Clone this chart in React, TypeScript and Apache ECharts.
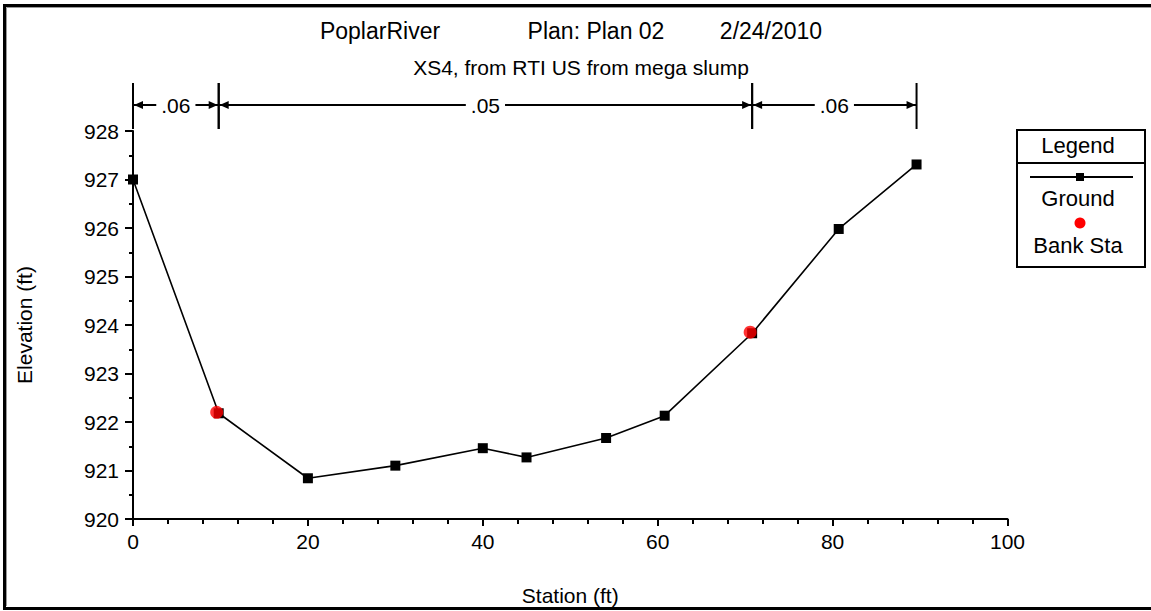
import React, { useEffect, useRef } from "react";
import * as echarts from "echarts";

// Cross-section XS4 ground profile
const groundStation = [0, 9.8, 20, 30, 40, 45, 54.1, 60.8, 70.8, 80.7, 89.6];
const groundElev = [927.0, 922.18, 920.84, 921.1, 921.46, 921.27, 921.67, 922.13, 923.83, 925.98, 927.31];

// Left / right bank stations
const bankStation = [9.8, 70.8];
const bankElev = [922.18, 923.83];

// Manning's n reaches across the section
const nStart = [0, 9.8, 70.8];
const nEnd = [9.8, 70.8, 89.6];
const nValue = [0.06, 0.05, 0.06];

const xTicks = { min: 0, max: 100, interval: 20 };
const yTicks = { min: 920, max: 928, interval: 1 };

const FONT = "Liberation Sans, Arial, sans-serif";

export default function App() {
  const ref = useRef<HTMLDivElement>(null);

  useEffect(() => {
    document.body.style.margin = "0";
    if (!ref.current) return;
    const chart = echarts.init(ref.current, undefined, { renderer: "svg" });

    const ground = groundStation.map((s, i) => [s, groundElev[i]]);
    const bank = bankStation.map((s, i) => [s, bankElev[i]]);
    const nData = nStart.map((s, i) => [s, nEnd[i], nValue[i]]);

    chart.setOption({
      animation: false,
      backgroundColor: "#fff",
      textStyle: { fontFamily: FONT, color: "#000" },
      grid: { left: 133, right: 143.5, top: 131, bottom: 91, containLabel: false },
      xAxis: {
        type: "value",
        min: xTicks.min,
        max: xTicks.max,
        interval: xTicks.interval,
        name: "Station (ft)",
        nameLocation: "middle",
        nameGap: 66,
        nameTextStyle: { fontSize: 21, color: "#000", fontFamily: FONT },
        axisLine: { show: true, onZero: false, lineStyle: { color: "#000", width: 2 } },
        axisTick: { show: true, length: 7, lineStyle: { color: "#000", width: 2 } },
        minorTick: { show: true, splitNumber: 5, length: 5, lineStyle: { color: "#000", width: 2 } },
        axisLabel: { fontSize: 21, color: "#000", margin: 12, fontFamily: FONT },
        splitLine: { show: false },
      },
      yAxis: {
        type: "value",
        min: yTicks.min,
        max: yTicks.max,
        interval: yTicks.interval,
        name: "Elevation (ft)",
        nameLocation: "middle",
        nameGap: 98,
        nameRotate: 90,
        nameTextStyle: { fontSize: 21, color: "#000", fontFamily: FONT },
        axisLine: { show: true, onZero: false, lineStyle: { color: "#000", width: 2 } },
        axisTick: { show: true, length: 8, lineStyle: { color: "#000", width: 2 } },
        minorTick: { show: true, splitNumber: 2, length: 4, lineStyle: { color: "#000", width: 2 } },
        axisLabel: { fontSize: 21, color: "#000", margin: 14, fontFamily: FONT },
        splitLine: { show: false },
      },
      graphic: [
        // outer frame
        { type: "rect", shape: { x: 4.5, y: 5.5, width: 1160, height: 603 }, style: { fill: "none", stroke: "#000", lineWidth: 3 } },
        { type: "line", shape: { x1: 6.5, y1: 7.5, x2: 1151, y2: 7.5 }, style: { stroke: "#999", lineWidth: 1 } },
        { type: "line", shape: { x1: 6.5, y1: 7.5, x2: 6.5, y2: 606 }, style: { stroke: "#999", lineWidth: 1 } },
        // titles
        { type: "text", x: 380, y: 31, style: { text: "PoplarRiver", font: `23px ${FONT}`, fill: "#000", align: "center", verticalAlign: "middle" } },
        { type: "text", x: 596, y: 31, style: { text: "Plan: Plan 02", font: `23px ${FONT}`, fill: "#000", align: "center", verticalAlign: "middle" } },
        { type: "text", x: 771, y: 31, style: { text: "2/24/2010", font: `23px ${FONT}`, fill: "#000", align: "center", verticalAlign: "middle" } },
        { type: "text", x: 581, y: 67, style: { text: "XS4, from RTI US from mega slump", font: `21px ${FONT}`, fill: "#000", align: "center", verticalAlign: "middle" } },
        // legend box
        { type: "rect", shape: { x: 1017, y: 130, width: 128, height: 137 }, style: { fill: "#fff", stroke: "#000", lineWidth: 2 } },
        { type: "line", shape: { x1: 1017, y1: 163, x2: 1145, y2: 163 }, style: { stroke: "#000", lineWidth: 2 } },
        { type: "text", x: 1078, y: 145, style: { text: "Legend", font: `22px ${FONT}`, fill: "#000", align: "center", verticalAlign: "middle" } },
        { type: "line", shape: { x1: 1030, y1: 177, x2: 1133, y2: 177 }, style: { stroke: "#000", lineWidth: 2 } },
        { type: "rect", shape: { x: 1076, y: 173, width: 8, height: 8 }, style: { fill: "#000" } },
        { type: "text", x: 1078, y: 198, style: { text: "Ground", font: `22px ${FONT}`, fill: "#000", align: "center", verticalAlign: "middle" } },
        { type: "circle", shape: { cx: 1080, cy: 223, r: 5.5 }, style: { fill: "#ff0000" } },
        { type: "text", x: 1078, y: 245, style: { text: "Bank Sta", font: `22px ${FONT}`, fill: "#000", align: "center", verticalAlign: "middle" } },
      ],
      series: [
        {
          name: "n values",
          type: "custom",
          coordinateSystem: "cartesian2d",
          clip: false,
          silent: true,
          encode: { x: [0, 1] },
          data: nData,
          renderItem: (params: any, api: any) => {
            const s = api.coord([api.value(0), yTicks.max]);
            const e = api.coord([api.value(1), yTicks.max]);
            const yb = s[1] - 26;
            const top = s[1] - 48;
            const bot = s[1] - 2;
            const ah = 9;
            const aw = 4;
            const label = String(api.value(2)).replace(/^0/, "");
            return {
              type: "group",
              children: [
                { type: "line", shape: { x1: s[0], y1: top, x2: s[0], y2: bot }, style: { stroke: "#000", lineWidth: 2 } },
                { type: "line", shape: { x1: e[0], y1: top, x2: e[0], y2: bot }, style: { stroke: "#000", lineWidth: 2 } },
                { type: "line", shape: { x1: s[0], y1: yb, x2: e[0], y2: yb }, style: { stroke: "#000", lineWidth: 2 } },
                { type: "polygon", shape: { points: [[s[0] + 1, yb], [s[0] + 1 + ah, yb - aw], [s[0] + 1 + ah, yb + aw]] }, style: { fill: "#000" } },
                { type: "polygon", shape: { points: [[e[0] - 1, yb], [e[0] - 1 - ah, yb - aw], [e[0] - 1 - ah, yb + aw]] }, style: { fill: "#000" } },
                {
                  type: "text",
                  x: (s[0] + e[0]) / 2,
                  y: yb,
                  style: {
                    text: label,
                    font: `21px ${FONT}`,
                    fill: "#000",
                    align: "center",
                    verticalAlign: "middle",
                    backgroundColor: "#fff",
                    padding: [0, 5],
                  },
                },
              ],
            };
          },
        },
        {
          name: "Ground",
          type: "line",
          data: ground,
          symbol: "rect",
          symbolSize: 10,
          itemStyle: { color: "#000" },
          lineStyle: { color: "#000", width: 1.6 },
          z: 3,
        },
        {
          name: "Bank Sta",
          type: "scatter",
          data: bank,
          symbol: "circle",
          symbolSize: 13,
          symbolOffset: [-2, -1],
          itemStyle: { color: "#ff0000" },
          z: 4,
        },
      ],
    });

    return () => chart.dispose();
  }, []);

  return <div ref={ref} style={{ width: 1151, height: 611 }} />;
}
